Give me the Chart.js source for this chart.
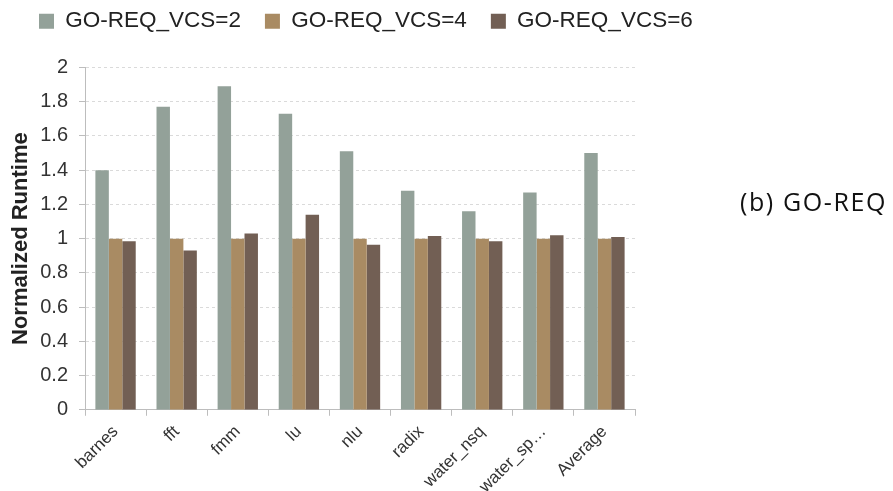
<!DOCTYPE html>
<html>
<head>
<meta charset="utf-8">
<script src="https://cdn.jsdelivr.net/npm/chart.js@4/dist/chart.umd.min.js"></script>
<style>
  html, body { margin: 0; padding: 0; background: #fff; }
  #wrap { position: relative; width: 893px; height: 491px; }
  #caption {
    position: absolute; left: 740px; top: 184px;
    font-family: "Open Sans", "Noto Sans", sans-serif; font-size: 25px; color: #111;
    letter-spacing: 1.6px; white-space: nowrap;
  }
</style>
</head>
<body>
<div id="wrap">
  <canvas id="c" width="893" height="491"></canvas>
  <div id="caption">(b) GO-REQ</div>
</div>
<script>
const categories = ["barnes", "fft", "fmm", "lu", "nlu", "radix", "water_nsq", "water_sp…", "Average"];
const seriesNames = ["GO-REQ_VCS=2", "GO-REQ_VCS=4", "GO-REQ_VCS=6"];
const vcs2 = [1.40, 1.77, 1.89, 1.73, 1.51, 1.28, 1.16, 1.27, 1.50];
const vcs4 = [1.00, 1.00, 1.00, 1.00, 1.00, 1.00, 1.00, 1.00, 1.00];
const vcs6 = [0.985, 0.93, 1.03, 1.14, 0.965, 1.015, 0.985, 1.02, 1.01];
const yTicks = [0, 0.2, 0.4, 0.6, 0.8, 1, 1.2, 1.4, 1.6, 1.8, 2];
const colors = ["#93a199", "#a98b63", "#725f54"];

const FONT = "'Liberation Sans', Arial, sans-serif";

// nudge the legend row so it sits where the header belongs
const legendShift = {
  id: "legendShift",
  afterLayout(chart) {
    const lg = chart.legend;
    if (lg) { lg.left += 15; lg.right += 15; }
  }
};

new Chart(document.getElementById("c"), {
  type: "bar",
  data: {
    labels: categories,
    datasets: [vcs2, vcs4, vcs6].map((d, i) => ({
      label: seriesNames[i],
      data: d,
      backgroundColor: colors[i],
      borderWidth: 0,
      barPercentage: 1.0,
      categoryPercentage: 0.66
    }))
  },
  options: {
    responsive: false,
    animation: false,
    devicePixelRatio: 1,
    layout: { padding: { top: -14, right: 0, bottom: -12, left: 0 } },
    plugins: {
      legend: {
        position: "top",
        align: "start",
        labels: {
          font: { family: FONT, size: 22.5 },
          color: "#222",
          boxWidth: 15,
          boxHeight: 15,
          padding: 24
        }
      },
      // empty spacer between the legend row and the plot
      title: {
        display: true,
        text: " ",
        weight: 100,
        font: { size: 10 },
        padding: { top: 13, bottom: 0 }
      },
      tooltip: { enabled: false }
    },
    scales: {
      x: {
        grid: {
          offset: true,
          drawOnChartArea: false,
          drawTicks: true,
          tickLength: 6,
          color: "#bdbdbd"
        },
        border: { color: "#bdbdbd" },
        ticks: {
          font: { family: FONT, size: 17 },
          color: "#333",
          minRotation: 45,
          maxRotation: 45,
          padding: 6
        }
      },
      yR: {
        position: "right",
        display: true,
        grid: { display: false },
        border: { display: false },
        ticks: { display: false },
        afterFit(s) { s.width = 258; }
      },
      y: {
        min: 0,
        max: 2,
        afterBuildTicks(s) { s.ticks = yTicks.map(v => ({ value: v })); },
        afterFit(s) { s.width = 85; },
        grid: {
          color: "#dadada",
          tickBorderDash: [],
          tickColor: "#bdbdbd",
          tickLength: 6
        },
        border: { color: "#bdbdbd", dash: [3, 3] },
        ticks: {
          font: { family: FONT, size: 20 },
          color: "#333",
          padding: 11,
          callback: (v) => String(v)
        },
        title: {
          display: true,
          text: "Normalized Runtime",
          font: { family: FONT, size: 22, weight: "bold" },
          color: "#222",
          padding: { top: 8, bottom: 0 }
        }
      }
    }
  },
  plugins: [legendShift]
});
</script>
</body>
</html>
